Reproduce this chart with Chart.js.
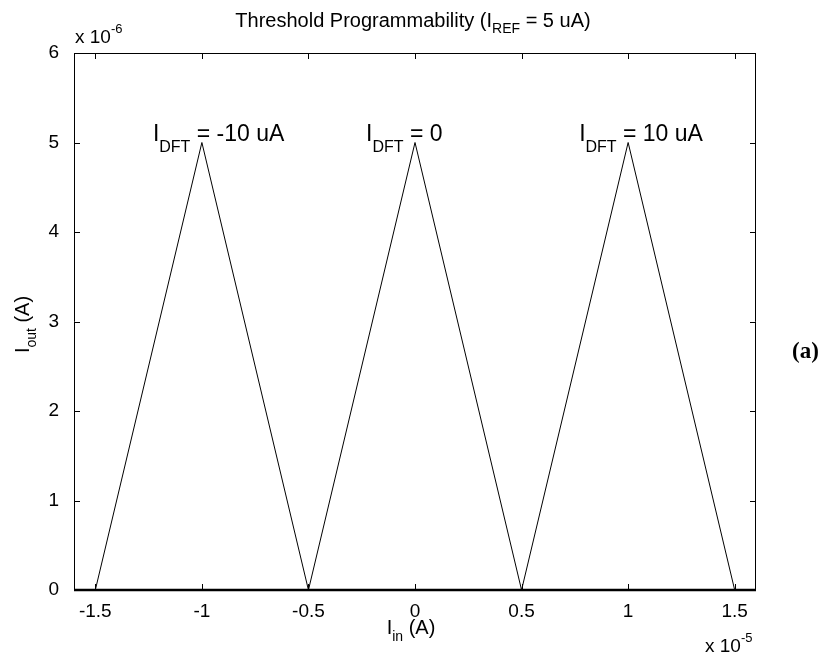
<!DOCTYPE html>
<html>
<head>
<meta charset="utf-8">
<script src="https://cdn.jsdelivr.net/npm/chart.js@4.4.0/dist/chart.umd.min.js"></script>
<style>
  html, body { margin: 0; padding: 0; background: #fff; }
  #wrap { width: 825px; height: 660px; }
</style>
</head>
<body>
<div id="wrap"><canvas id="chart" width="825" height="660"></canvas></div>
<script>
// input current in units of 1e-5 A, output current in units of 1e-6 A
const iIn  = [-1.6, -1.5, -1, -0.5, 0, 0.5, 1, 1.5, 1.6];
const iOut = [0, 0, 5, 0, 5, 0, 5, 0, 0];

const xTicks = [-1.5, -1, -0.5, 0, 0.5, 1, 1.5];
const yTicks = [0, 1, 2, 3, 4, 5, 6];

// peak annotations (offset bias current for each triangle)
const peakX = [-1, 0, 1];
const peakY = [5, 5, 5];
const peakText = ['= -10 uA', '= 0', '= 10 uA'];

const SANS = '"Liberation Sans", Arial, sans-serif';

function drawRuns(ctx, x, y, runs, align) {
  // runs: [text, px size, baseline shift]
  let total = 0;
  runs.forEach(r => { ctx.font = r[1] + 'px ' + SANS; total += ctx.measureText(r[0]).width; });
  let cx = align === 'center' ? x - total / 2 : x;
  ctx.textAlign = 'left';
  ctx.textBaseline = 'alphabetic';
  runs.forEach(r => {
    ctx.font = r[1] + 'px ' + SANS;
    ctx.fillText(r[0], cx, y + r[2]);
    cx += ctx.measureText(r[0]).width;
  });
}

const matlabFrame = {
  id: 'matlabFrame',
  afterDraw(chart) {
    const ctx = chart.ctx;
    const a = chart.chartArea;
    const xs = chart.scales.x, ys = chart.scales.y;
    ctx.save();
    ctx.strokeStyle = '#000';
    ctx.fillStyle = '#000';

    // box
    ctx.lineWidth = 1;
    ctx.beginPath();
    ctx.moveTo(a.left + 0.5, a.bottom);
    ctx.lineTo(a.left + 0.5, a.top + 0.5);
    ctx.lineTo(a.right - 0.5, a.top + 0.5);
    ctx.lineTo(a.right - 0.5, a.bottom);
    ctx.stroke();
    ctx.lineWidth = 2.5;
    ctx.beginPath();
    ctx.moveTo(a.left, a.bottom);
    ctx.lineTo(a.right, a.bottom);
    ctx.stroke();

    // inward ticks on all four sides
    const tl = 6;
    ctx.lineWidth = 1;
    ctx.beginPath();
    xTicks.forEach(v => {
      const px = Math.round(xs.getPixelForValue(v)) + 0.5;
      ctx.moveTo(px, a.bottom); ctx.lineTo(px, a.bottom - tl);
      ctx.moveTo(px, a.top); ctx.lineTo(px, a.top + tl);
    });
    yTicks.forEach(v => {
      const py = Math.round(ys.getPixelForValue(v)) + 0.5;
      ctx.moveTo(a.left, py); ctx.lineTo(a.left + tl, py);
      ctx.moveTo(a.right, py); ctx.lineTo(a.right - tl, py);
    });
    ctx.stroke();

    // title
    drawRuns(ctx, (a.left + a.right) / 2 - 2, 27, [
      ['Threshold Programmability (I', 20, 0],
      ['REF', 14, 6],
      [' = 5 uA)', 20, 0]
    ], 'center');

    // exponent labels
    drawRuns(ctx, a.left + 1, 43, [['x 10', 19, 0], ['-6', 13, -10]]);
    drawRuns(ctx, 705, 652, [['x 10', 19, 0], ['-5', 13, -10]]);

    // axis titles
    drawRuns(ctx, (a.left + a.right) / 2 - 4, 634, [['I', 20, 0], ['in', 14, 7], [' (A)', 20, 0]], 'center');
    ctx.save();
    ctx.translate(29, (a.top + a.bottom) / 2 + 3);
    ctx.rotate(-Math.PI / 2);
    drawRuns(ctx, 0, 0, [['I', 20, 0], ['out', 14, 7], [' (A)', 20, 0]], 'center');
    ctx.restore();

    // peak annotations
    peakX.forEach((v, i) => {
      const px = xs.getPixelForValue(v);
      const py = ys.getPixelForValue(peakY[i]);
      drawRuns(ctx, px - 49, py - 2, [['I', 23, 0], ['DFT', 16, 11], [' ' + peakText[i], 23, 0]]);
    });

    // panel tag
    ctx.font = 'bold 23px "Liberation Serif", "Times New Roman", serif';
    ctx.textAlign = 'left';
    ctx.fillText('(a)', 792, 358);
    ctx.restore();
  }
};

new Chart(document.getElementById('chart'), {
  type: 'scatter',
  data: {
    datasets: [{
      data: iIn.map((x, i) => ({ x: x, y: iOut[i] })),
      showLine: true,
      borderColor: '#000',
      borderWidth: 1,
      pointRadius: 0,
      tension: 0,
      clip: 4
    }]
  },
  options: {
    responsive: false,
    animation: false,
    layout: { padding: { left: 0, right: 69, top: 53, bottom: 0 } },
    plugins: { legend: { display: false }, tooltip: { enabled: false } },
    scales: {
      x: {
        type: 'linear',
        min: -1.6,
        max: 1.6,
        afterBuildTicks: s => { s.ticks = xTicks.map(v => ({ value: v })); },
        afterFit: s => { s.height = 70; },
        grid: { display: false },
        border: { display: false },
        ticks: {
          color: '#000',
          padding: 2,
          font: { family: SANS, size: 19 },
          callback: v => String(v)
        }
      },
      y: {
        type: 'linear',
        min: 0,
        max: 6,
        afterBuildTicks: s => { s.ticks = yTicks.map(v => ({ value: v })); },
        afterFit: s => { s.width = 74; },
        grid: { display: false },
        border: { display: false },
        ticks: {
          color: '#000',
          padding: 7,
          font: { family: SANS, size: 19 },
          callback: v => String(v)
        }
      }
    }
  },
  plugins: [matlabFrame]
});
</script>
</body>
</html>
